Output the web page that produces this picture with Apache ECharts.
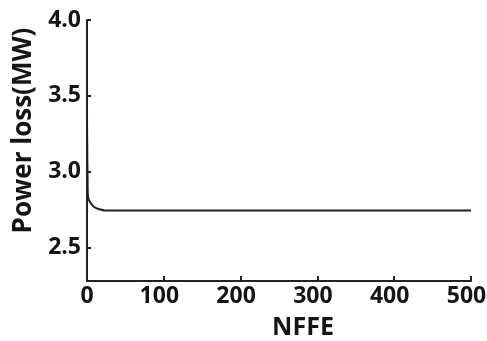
<!DOCTYPE html>
<html>
<head>
<meta charset="utf-8">
<script src="https://cdn.jsdelivr.net/npm/echarts@6/dist/echarts.min.js"></script>
<style>
  html, body { margin: 0; padding: 0; background: #fff; }
  #chart { width: 487px; height: 341px; }
</style>
</head>
<body>
<div id="chart"></div>
<script>
// Convergence of power loss against the number of fitness function evaluations
const nffe = [0, 1, 2, 4, 7, 10, 15, 23, 100, 200, 300, 400, 500];
const powerLoss = [3.36, 2.86, 2.82, 2.80, 2.78, 2.765, 2.755, 2.745, 2.745, 2.745, 2.745, 2.745, 2.745];
const xTicks = [0, 100, 200, 300, 400, 500];
const yTicks = [2.5, 3.0, 3.5, 4.0];

const textColor = '#151515';
const font = '"Open Sans"';
const labelStyle = { color: textColor, fontFamily: font, fontWeight: 'bold', fontSize: 23 };

const chart = echarts.init(document.getElementById('chart'), null, { renderer: 'canvas' });
chart.setOption({
  animation: false,
  backgroundColor: '#fff',
  grid: { left: 87, right: 16, top: 20, bottom: 60, containLabel: false, outerBoundsMode: 'none' },
  xAxis: {
    type: 'value',
    min: 0, max: 500, interval: 100,
    name: 'NFFE',
    nameLocation: 'middle',
    nameGap: 34,
    nameTextStyle: {
      color: textColor, fontFamily: font, fontWeight: 'bold', fontSize: 25,
      padding: [0, 0, 0, 48]
    },
    axisLine: { show: true, onZero: false, lineStyle: { color: '#222', width: 2 } },
    axisTick: { show: true, inside: true, length: 5, lineStyle: { color: '#222', width: 2 } },
    axisLabel: {
      ...labelStyle, margin: 4,
      customValues: xTicks,
      // hundreds sit slightly left of their ticks
      formatter: v => (v === 0 ? '{z|0}' : '{n|' + v + '}'),
      rich: {
        z: { ...labelStyle },
        n: { ...labelStyle, padding: [0, 9, 0, 0] }
      }
    },
    splitLine: { show: false }
  },
  yAxis: {
    type: 'value',
    min: 2.28, max: 4.0,
    name: 'Power loss(MW)',
    nameLocation: 'middle',
    nameGap: 50,
    nameTextStyle: {
      color: textColor, fontFamily: font, fontWeight: 'bold', fontSize: 26,
      padding: [0, 0, 0, 40]
    },
    axisLine: { show: true, onZero: false, lineStyle: { color: '#222', width: 2 } },
    axisTick: { show: true, inside: true, length: 4, lineStyle: { color: '#222', width: 2 }, customValues: yTicks },
    axisLabel: {
      ...labelStyle, margin: 6,
      customValues: yTicks,
      formatter: v => v.toFixed(1)
    },
    splitLine: { show: false }
  },
  series: [{
    type: 'line',
    data: nffe.map((x, i) => [x, powerLoss[i]]),
    showSymbol: false,
    smooth: 0.3,
    lineStyle: { color: '#222', width: 2 }
  }]
});
</script>
</body>
</html>
